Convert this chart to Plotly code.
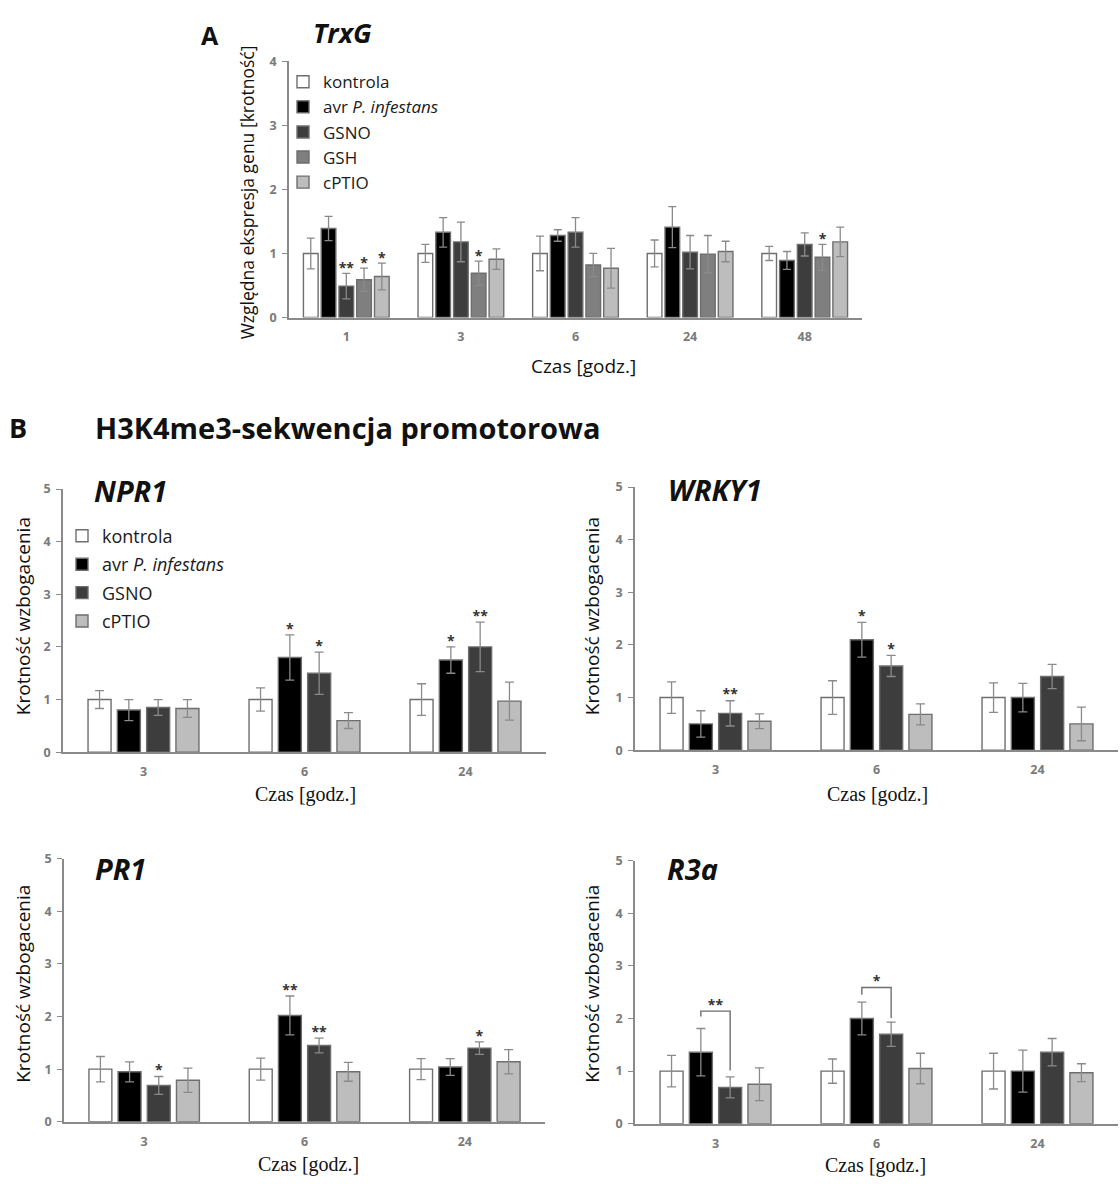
import plotly.graph_objects as go

W, H = 1120, 1184

# ---------------- Panel A: TrxG relative expression ----------------
trxg_times = ["1", "3", "6", "24", "48"]
trxg_kontrola = [1.00, 1.00, 1.00, 1.00, 1.00]
trxg_kontrola_sd = [0.24, 0.14, 0.27, 0.21, 0.11]
trxg_avr = [1.39, 1.33, 1.28, 1.41, 0.89]
trxg_avr_sd = [0.19, 0.23, 0.09, 0.32, 0.14]
trxg_gsno = [0.49, 1.18, 1.33, 1.02, 1.14]
trxg_gsno_sd = [0.20, 0.31, 0.23, 0.26, 0.18]
trxg_gsh = [0.59, 0.69, 0.82, 0.99, 0.94]
trxg_gsh_sd = [0.18, 0.19, 0.18, 0.29, 0.20]
trxg_cptio = [0.64, 0.91, 0.77, 1.03, 1.18]
trxg_cptio_sd = [0.21, 0.16, 0.31, 0.16, 0.23]
# (time index, series index, mark)
trxg_sig = [(0, 2, "**"), (0, 3, "*"), (0, 4, "*"), (1, 3, "*"), (4, 3, "*")]

# ---------------- Panel B: H3K4me3 enrichment ----------------
b_times = ["3", "6", "24"]

npr1_kontrola = [1.00, 1.00, 1.00]
npr1_kontrola_sd = [0.17, 0.22, 0.30]
npr1_avr = [0.80, 1.80, 1.75]
npr1_avr_sd = [0.20, 0.43, 0.25]
npr1_gsno = [0.85, 1.50, 2.00]
npr1_gsno_sd = [0.15, 0.40, 0.47]
npr1_cptio = [0.83, 0.60, 0.97]
npr1_cptio_sd = [0.17, 0.15, 0.36]
npr1_sig = [(1, 1, "*"), (1, 2, "*"), (2, 1, "*"), (2, 2, "**")]

wrky1_kontrola = [1.00, 1.00, 1.00]
wrky1_kontrola_sd = [0.30, 0.32, 0.28]
wrky1_avr = [0.50, 2.10, 1.00]
wrky1_avr_sd = [0.25, 0.33, 0.27]
wrky1_gsno = [0.70, 1.60, 1.40]
wrky1_gsno_sd = [0.24, 0.20, 0.23]
wrky1_cptio = [0.55, 0.68, 0.50]
wrky1_cptio_sd = [0.14, 0.20, 0.32]
wrky1_sig = [(0, 2, "**"), (1, 1, "*"), (1, 2, "*")]

pr1_kontrola = [1.00, 1.00, 1.00]
pr1_kontrola_sd = [0.24, 0.21, 0.20]
pr1_avr = [0.95, 2.02, 1.04]
pr1_avr_sd = [0.19, 0.37, 0.16]
pr1_gsno = [0.69, 1.45, 1.40]
pr1_gsno_sd = [0.17, 0.14, 0.12]
pr1_cptio = [0.79, 0.95, 1.14]
pr1_cptio_sd = [0.23, 0.18, 0.23]
pr1_sig = [(0, 2, "*"), (1, 1, "**"), (1, 2, "**"), (2, 2, "*")]

r3a_kontrola = [1.00, 1.00, 1.00]
r3a_kontrola_sd = [0.30, 0.23, 0.34]
r3a_avr = [1.36, 2.00, 1.00]
r3a_avr_sd = [0.45, 0.31, 0.40]
r3a_gsno = [0.69, 1.70, 1.36]
r3a_gsno_sd = [0.20, 0.23, 0.26]
r3a_cptio = [0.75, 1.05, 0.97]
r3a_cptio_sd = [0.31, 0.29, 0.17]
# (time index, left series, right series, mark, bracket level, left foot, right foot)
r3a_brackets = [(0, 1, 2, "**", 2.14, 2.04, 1.01), (1, 1, 2, "*", 2.59, 2.45, 2.01)]

# ---------------- styling ----------------
SANS = "'Open Sans', Lato, sans-serif"
SERIF = "'Liberation Serif', serif"
FILL = {"kontrola": "#ffffff", "avr": "#000000", "GSNO": "#3d3d3d",
        "GSH": "#7f7f7f", "cPTIO": "#bdbdbd"}
LABEL = {"kontrola": "kontrola", "avr": "avr <i>P. infestans</i>", "GSNO": "GSNO",
         "GSH": "GSH", "cPTIO": "cPTIO"}
AXIS_GREY = "#8a8a8a"
TICK_FONT = dict(family=SANS, size=12.5, color="#7a7a7a", weight="bold")
STAR_FONT = dict(family=SANS, size=14, color="#333333", weight="bold")

fig = go.Figure()


def fx(px):
    return px / W


def fy(py):
    return 1 - py / H


def add_panel(n, times, series, slot, barw, ymax, x_px, y_px,
              legend=None, sig=None, pad=0.1, capw=4, bracket=None):
    xa, ya = ("x", "y") if n == 1 else (f"x{n}", f"y{n}")
    k = len(series)
    offsets = [(j - (k - 1) / 2) * slot for j in range(k)]
    for j, (key, vals, sds) in enumerate(series):
        fig.add_trace(go.Bar(
            x=[i + offsets[j] for i in range(len(times))], y=vals, width=barw,
            name=LABEL[key], xaxis=xa, yaxis=ya,
            marker=dict(color=FILL[key], line=dict(color="#6e6e6e", width=1.4)),
            error_y=dict(type="data", array=sds, color=AXIS_GREY,
                         thickness=1.3, width=capw),
            showlegend=legend is not None, legend=legend,
            legendgroup=f"{legend}_{key}" if legend else None,
            hoverinfo="skip"))
    if sig:
        sx, sy, st = [], [], []
        for (i, j, mark) in sig:
            _, vals, sds = series[j]
            sx.append(i + offsets[j])
            sy.append(vals[i] + sds[i] + pad)
            st.append(mark)
        fig.add_trace(go.Scatter(x=sx, y=sy, text=st, mode="text",
                                 textposition="middle center", textfont=STAR_FONT,
                                 xaxis=xa, yaxis=ya, showlegend=False,
                                 hoverinfo="skip", cliponaxis=False))
    if bracket:
        for (i, jl, jr, mark, level, foot_l, foot_r) in bracket:
            xl, xr = i + offsets[jl], i + offsets[jr]
            fig.add_trace(go.Scatter(x=[xl, xl, xr, xr], y=[foot_l, level, level, foot_r],
                                     mode="lines", line=dict(color="#6e6e6e", width=1.4),
                                     xaxis=xa, yaxis=ya, showlegend=False,
                                     hoverinfo="skip"))
            fig.add_trace(go.Scatter(x=[(xl + xr) / 2], y=[level + pad], text=[mark],
                                     mode="text", textposition="middle center",
                                     textfont=STAR_FONT, xaxis=xa, yaxis=ya,
                                     showlegend=False, hoverinfo="skip", cliponaxis=False))
    xkey = "xaxis" if n == 1 else f"xaxis{n}"
    ykey = "yaxis" if n == 1 else f"yaxis{n}"
    fig.update_layout(**{
        xkey: dict(domain=[fx(x_px[0]), fx(x_px[1])], range=[-0.5, len(times) - 0.5],
                   tickvals=list(range(len(times))), ticktext=times,
                   showline=True, linecolor=AXIS_GREY, linewidth=1.6,
                   ticks="", showgrid=False, zeroline=False, tickfont=TICK_FONT,
                   ticklabelstandoff=7, anchor=ya, fixedrange=True),
        ykey: dict(domain=[fy(y_px[1]), fy(y_px[0])], range=[0, ymax], dtick=1,
                   showline=True, linecolor=AXIS_GREY, linewidth=1.6,
                   ticks="outside", ticklen=5, tickwidth=1.3, tickcolor=AXIS_GREY,
                   showgrid=False, zeroline=False, tickfont=TICK_FONT,
                   ticklabelstandoff=3, anchor=xa, fixedrange=True),
    })


add_panel(1, trxg_times,
          [("kontrola", trxg_kontrola, trxg_kontrola_sd), ("avr", trxg_avr, trxg_avr_sd),
           ("GSNO", trxg_gsno, trxg_gsno_sd), ("GSH", trxg_gsh, trxg_gsh_sd),
           ("cPTIO", trxg_cptio, trxg_cptio_sd)],
          slot=0.155, barw=0.128, ymax=4, x_px=(289, 862), y_px=(53, 313),
          legend="legend", sig=trxg_sig, pad=0.06, capw=4)

add_panel(2, b_times,
          [("kontrola", npr1_kontrola, npr1_kontrola_sd), ("avr", npr1_avr, npr1_avr_sd),
           ("GSNO", npr1_gsno, npr1_gsno_sd), ("cPTIO", npr1_cptio, npr1_cptio_sd)],
          slot=0.182, barw=0.143, ymax=5, x_px=(63, 546), y_px=(487, 754),
          legend="legend2", sig=npr1_sig, pad=0.09, capw=4.5)

add_panel(3, b_times,
          [("kontrola", wrky1_kontrola, wrky1_kontrola_sd), ("avr", wrky1_avr, wrky1_avr_sd),
           ("GSNO", wrky1_gsno, wrky1_gsno_sd), ("cPTIO", wrky1_cptio, wrky1_cptio_sd)],
          slot=0.182, barw=0.143, ymax=5, x_px=(635, 1118), y_px=(485, 752),
          sig=wrky1_sig, pad=0.09, capw=4.5)

add_panel(4, b_times,
          [("kontrola", pr1_kontrola, pr1_kontrola_sd), ("avr", pr1_avr, pr1_avr_sd),
           ("GSNO", pr1_gsno, pr1_gsno_sd), ("cPTIO", pr1_cptio, pr1_cptio_sd)],
          slot=0.182, barw=0.143, ymax=5, x_px=(64, 545), y_px=(862, 1129),
          sig=pr1_sig, pad=0.09, capw=4.5)

add_panel(5, b_times,
          [("kontrola", r3a_kontrola, r3a_kontrola_sd), ("avr", r3a_avr, r3a_avr_sd),
           ("GSNO", r3a_gsno, r3a_gsno_sd), ("cPTIO", r3a_cptio, r3a_cptio_sd)],
          slot=0.182, barw=0.143, ymax=5, x_px=(635, 1118), y_px=(864, 1131),
          bracket=r3a_brackets, pad=0.09, capw=4.5)

# ---------------- text ----------------
ann = []


def text(s, x, y, size, family=SANS, bold=False, italic=False, xanchor="center",
         angle=0, color="#111111"):
    ann.append(dict(text=s, x=fx(x), y=fy(y), xref="paper", yref="paper",
                    xanchor=xanchor, yanchor="middle", showarrow=False, textangle=angle,
                    font=dict(family=family, size=size, color=color,
                              weight="bold" if bold else "normal",
                              style="italic" if italic else "normal")))


text("A", 210, 26, 25, bold=True)
text("TrxG", 311, 24, 27, bold=True, italic=True, xanchor="left")
text("Względna ekspresja genu [krotność]", 247, 186, 17.5, angle=-90)
text("Czas [godz.]", 583, 362, 19)

text("B", 18, 425, 27, bold=True)
text("H3K4me3-sekwencja promotorowa", 93, 425, 29, bold=True, xanchor="left")

text("NPR1", 92, 489, 29, bold=True, italic=True, xanchor="left")
text("WRKY1", 666, 488, 29, bold=True, italic=True, xanchor="left")
text("PR1", 93, 872, 29, bold=True, italic=True, xanchor="left")
text("R3a", 665, 872, 29, bold=True, italic=True, xanchor="left")

for (x, y) in [(23, 616), (592, 616), (23, 989), (592, 989)]:
    text("Krotność wzbogacenia", x, y, 19, angle=-90)

for (x, y) in [(305, 797), (877, 797), (308, 1172), (875, 1173)]:
    text("Czas [godz.]", x, y, 20, family=SERIF)

legend_common = dict(xanchor="left", yanchor="top", bgcolor="rgba(0,0,0,0)",
                     borderwidth=0, itemclick=False, itemdoubleclick=False)

fig.update_layout(
    width=W, height=H, margin=dict(l=0, r=0, t=0, b=0),
    paper_bgcolor="white", plot_bgcolor="white",
    barmode="overlay", annotations=ann,
    legend=dict(x=fx(283), y=fy(56), tracegroupgap=0,
                font=dict(family=SANS, size=17, color="#1a1a1a"), **legend_common),
    legend2=dict(x=fx(62), y=fy(516), tracegroupgap=2,
                 font=dict(family=SANS, size=18, color="#1a1a1a"), **legend_common),
)

fig.write_html("out.html")
